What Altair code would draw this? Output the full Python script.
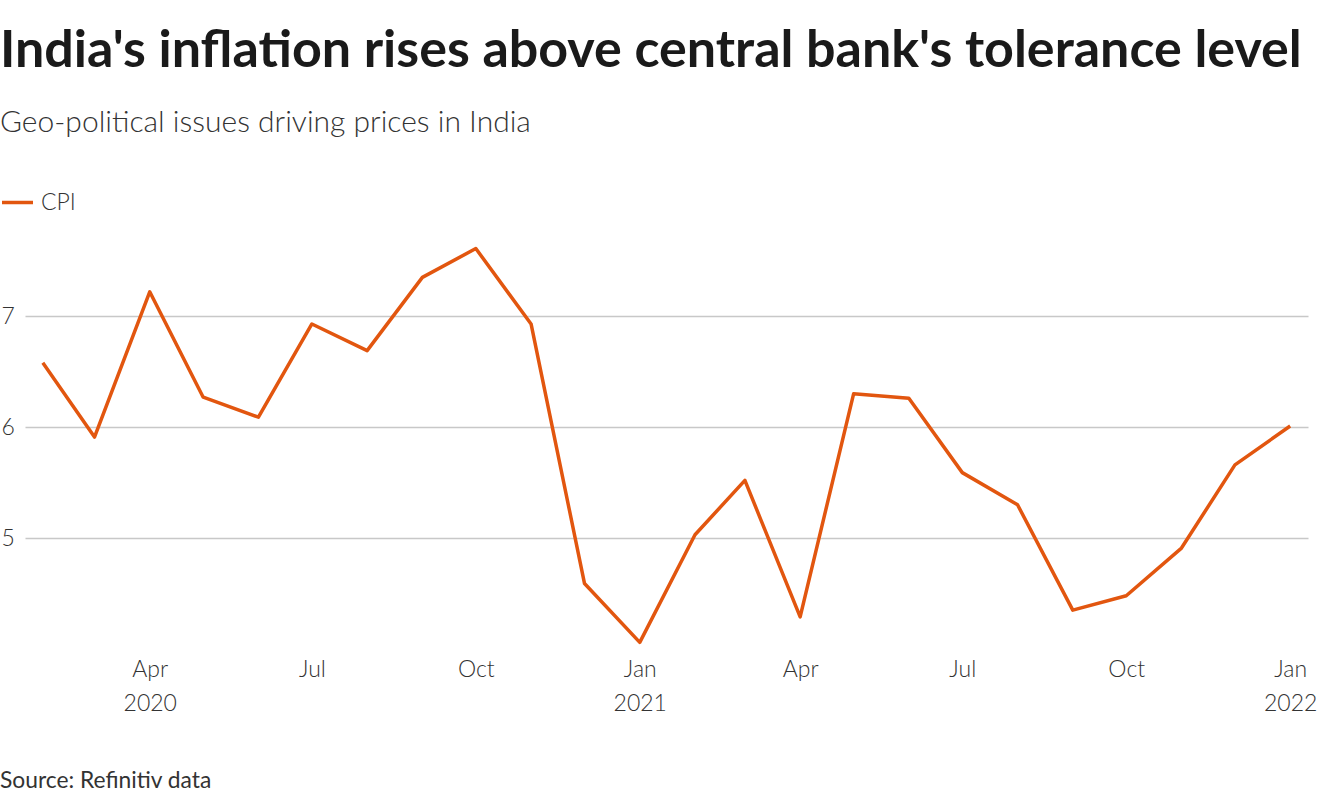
import altair as alt
import pandas as pd

months = ["2020-02-01", "2020-03-01", "2020-04-01", "2020-05-01", "2020-06-01", "2020-07-01",
          "2020-08-01", "2020-09-01", "2020-10-01", "2020-11-01", "2020-12-01", "2021-01-01",
          "2021-02-01", "2021-03-01", "2021-04-01", "2021-05-01", "2021-06-01", "2021-07-01",
          "2021-08-01", "2021-09-01", "2021-10-01", "2021-11-01", "2021-12-01", "2022-01-01"]
cpi = [6.58, 5.91, 7.22, 6.27, 6.09, 6.93, 6.69, 7.35, 7.61, 6.93, 4.59, 4.06,
       5.03, 5.52, 4.29, 6.30, 6.26, 5.59, 5.30, 4.35, 4.48, 4.91, 5.66, 6.01]
series = ["CPI"] * len(months)

title_text = "India's inflation rises above central bank's tolerance level"
subtitle_text = "Geo-political issues driving prices in India"
source_text = "Source: Refinitiv data"

FONT = "Lato"
ORANGE = "#e2560f"

df = pd.DataFrame({"date": months, "cpi": cpi, "series": series})

tick_dates = [alt.DateTime(year=2020, month=4, date=1, utc=True),
              alt.DateTime(year=2020, month=7, date=1, utc=True),
              alt.DateTime(year=2020, month=10, date=1, utc=True),
              alt.DateTime(year=2021, month=1, date=1, utc=True),
              alt.DateTime(year=2021, month=4, date=1, utc=True),
              alt.DateTime(year=2021, month=7, date=1, utc=True),
              alt.DateTime(year=2021, month=10, date=1, utc=True),
              alt.DateTime(year=2022, month=1, date=1, utc=True)]

x = alt.X(
    "date:T",
    scale=alt.Scale(domain=[alt.DateTime(year=2020, month=1, date=22, utc=True),
                            alt.DateTime(year=2022, month=1, date=11, utc=True)]),
    axis=alt.Axis(
        values=tick_dates,
        labelExpr="(utcmonth(datum.value)==0 || (utcyear(datum.value)==2020 && utcmonth(datum.value)==3)) ? [utcFormat(datum.value,'%b'), utcFormat(datum.value,'%Y')] : utcFormat(datum.value,'%b')",
        title=None, domain=False, ticks=False, tickSize=0, grid=False,
        labelFont=FONT, labelFontSize=23, labelFontWeight=300, labelColor="#333333",
        labelPadding=9, labelLineHeight=34, labelOverlap=False, labelFlush=False,
        labelBaseline="top",
    ),
)
y = alt.Y(
    "cpi:Q",
    scale=alt.Scale(domain=[4, 7.75], nice=False, zero=False),
    axis=alt.Axis(
        values=[5, 6, 7], title=None, domain=False, ticks=False, tickSize=0,
        grid=True, gridColor="#c8c8c8", gridWidth=1.5,
        labelFont=FONT, labelFontSize=23, labelFontWeight=300, labelColor="#333333",
        labelAlign="left", labelPadding=24, labelBaseline="middle",
    ),
)

line = alt.Chart(df).mark_line(strokeWidth=3.5, strokeJoin="round").encode(
    x=x, y=y,
    color=alt.Color(
        "series:N",
        scale=alt.Scale(range=[ORANGE]),
        legend=alt.Legend(
            title=None, orient="none", legendX=-25, legendY=-48,
            symbolType="stroke", symbolSize=961, symbolStrokeWidth=3.5,
            labelFont=FONT, labelFontSize=23, labelFontWeight=300, labelColor="#333333",
            labelOffset=6,
        ),
    ),
)

title = alt.Chart(pd.DataFrame({"t": [title_text]})).mark_text(
    font=FONT, fontSize=52, fontWeight="bold", color="#1a1a1a", align="left", baseline="alphabetic"
).encode(text="t:N", x=alt.value(-25), y=alt.value(67 - 233))

subtitle = alt.Chart(pd.DataFrame({"t": [subtitle_text]})).mark_text(
    font=FONT, fontSize=30, fontWeight=300, color="#333333", align="left", baseline="alphabetic"
).encode(text="t:N", x=alt.value(-25), y=alt.value(132 - 233))

source = alt.Chart(pd.DataFrame({"t": [source_text]})).mark_text(
    font=FONT, fontSize=22.8, fontWeight="normal", color="#333333", align="left", baseline="alphabetic"
).encode(text="t:N", x=alt.value(-25), y=alt.value(788 - 233))

chart = alt.layer(line, title, subtitle, source).properties(
    width=1283, height=416,
    autosize=alt.AutoSizeParams(type="none"),
    padding={"left": 25, "top": 233, "right": 12, "bottom": 151},
    background="white",
).configure_view(stroke=None)

chart.save("out.html", embed_options={"renderer": "svg", "actions": False})
